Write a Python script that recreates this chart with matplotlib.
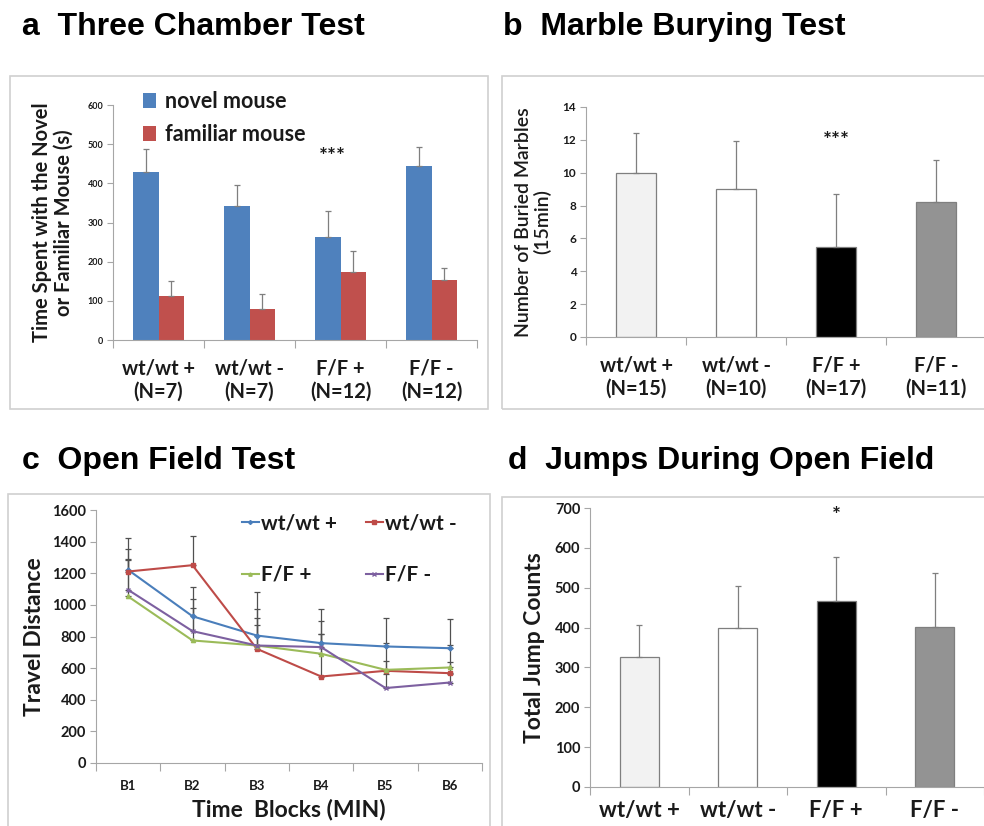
import matplotlib
matplotlib.use('Agg')
import matplotlib.pyplot as plt
import numpy as np
from matplotlib.patches import Rectangle

W, H = 984, 826

# ---------------- data ----------------
groups = ['wt/wt +', 'wt/wt -', 'F/F +', 'F/F -']

a_n = ['(N=7)', '(N=7)', '(N=12)', '(N=12)']
a_novel = [430, 343, 264, 445]
a_novel_err = [57, 52, 65, 47]
a_familiar = [112, 78, 174, 152]
a_familiar_err = [38, 39, 52, 31]
a_yticks = [0, 100, 200, 300, 400, 500, 600]

b_n = ['(N=15)', '(N=10)', '(N=17)', '(N=11)']
b_marbles = [10.0, 9.0, 5.5, 8.2]
b_err = [2.4, 2.9, 3.2, 2.6]
b_yticks = [0, 2, 4, 6, 8, 10, 12, 14]

c_blocks = ['B1', 'B2', 'B3', 'B4', 'B5', 'B6']
c_wt_pos = [1221, 928, 806, 758, 737, 726]
c_wt_pos_err = [204, 187, 277, 217, 181, 186]
c_wt_neg = [1211, 1251, 722, 547, 583, 568]
c_wt_neg_err = [140, 184, 250, 354, 179, 179]
c_ff_pos = [1053, 775, 743, 691, 589, 604]
c_ff_pos_err = [235, 205, 171, 123, 57, 34]
c_ff_neg = [1095, 834, 743, 733, 474, 509]
c_ff_neg_err = [190, 206, 129, 80, 86, 51]
c_yticks = [0, 200, 400, 600, 800, 1000, 1200, 1400, 1600]

d_jumps = [327, 400, 467, 401]
d_err = [79, 104, 110, 137]
d_yticks = [0, 100, 200, 300, 400, 500, 600, 700]

bar_colors = ['#f2f2f2', '#ffffff', '#000000', '#939393']

# ---------------- styling ----------------
FONT = ['Lato', 'DejaVu Sans']
TFONT = ['Liberation Sans', 'DejaVu Sans']
AXC = '#a6a6a6'
TXT = '#1a1a1a'

fig = plt.figure(figsize=(W / 100, H / 100), dpi=100)
fig.patch.set_facecolor('white')


def px_axes(left, right, y0, ytop):
    return fig.add_axes([left / W, 1 - y0 / H, (right - left) / W, (y0 - ytop) / H])


def box(x0, y0, x1, y1):
    fig.add_artist(Rectangle((x0 / W, 1 - y1 / H), (x1 - x0) / W, (y1 - y0) / H,
                             transform=fig.transFigure, fill=False,
                             edgecolor='#d0d0d0', linewidth=1.2))


def style_axes(ax, ncat, yticks, ytsize, xlabels, xtsize, xpad, linesp=1.25):
    for s in ['top', 'right']:
        ax.spines[s].set_visible(False)
    ax.spines['left'].set_color(AXC)
    ax.spines['bottom'].set_color(AXC)
    ax.set_xlim(-0.5, ncat - 0.5)
    ax.set_yticks(yticks)
    ax.set_ylim(yticks[0], yticks[-1])
    ax.tick_params(axis='y', length=4, width=0.8, color=AXC, pad=3)
    for t in ax.get_yticklabels():
        t.set_fontsize(ytsize)
        t.set_fontweight('bold')
        t.set_family(FONT)
        t.set_color(TXT)
    ax.set_xticks(np.arange(ncat))
    ax.set_xticklabels(xlabels, fontsize=xtsize, fontweight='bold', family=FONT,
                       color=TXT, linespacing=linesp)
    ax.set_xticks(np.arange(ncat + 1) - 0.5, minor=True)
    ax.tick_params(axis='x', which='major', length=0, pad=xpad)
    ax.tick_params(axis='x', which='minor', length=6, width=0.8, color=AXC)


# ---------------- boxes ----------------
box(10, 76, 488, 409)
box(502, 76, 990, 409)
box(8, 494, 490, 840)
box(502, 497, 990, 840)

# ---------------- titles ----------------
tkw = dict(fontsize=23, fontweight='bold', family=TFONT, va='center', ha='left', color='black')
fig.text(22 / W, 1 - 27 / H, 'a  Three Chamber Test', **tkw)
fig.text(503 / W, 1 - 27 / H, 'b  Marble Burying Test', **tkw)
fig.text(22 / W, 1 - 461 / H, 'c  Open Field Test', **tkw)
fig.text(508 / W, 1 - 461 / H, 'd  Jumps During Open Field', **tkw)

# ---------------- panel a ----------------
ax = px_axes(113, 477, 340, 105)
x = np.arange(len(groups))
bw = 0.28
ekw = dict(ecolor='#7f7f7f', elinewidth=0.9, capsize=2, capthick=0.9)
ax.bar(x - bw / 2, a_novel, bw, color='#4f81bd', label='novel mouse', zorder=2,
       yerr=[np.zeros(4), a_novel_err], error_kw=ekw)
ax.bar(x + bw / 2, a_familiar, bw, color='#c0504d', label='familiar mouse', zorder=2,
       yerr=[np.zeros(4), a_familiar_err], error_kw=ekw)
style_axes(ax, 4, a_yticks, 6.5, [f'{g}\n{n}' for g, n in zip(groups, a_n)], 14.5, 13)
ax.set_ylabel('Time Spent with the Novel\nor Familiar Mouse (s)', fontsize=14.5,
              fontweight='bold', family=FONT, color=TXT, labelpad=10, linespacing=1.1)
leg = ax.legend(loc='upper left', bbox_to_anchor=(0.03, 1.14), frameon=False,
                prop={'family': FONT, 'size': 15.5, 'weight': 'bold'},
                handlelength=0.6, handleheight=0.7, handletextpad=0.4, labelspacing=0.55)
for t in leg.get_texts():
    t.set_color(TXT)
ax.text(2 - bw / 2 + 0.05, 468, '***', ha='center', va='center', fontsize=15,
        fontweight='bold', family=FONT, color=TXT)

# ---------------- panel b ----------------
ax = px_axes(586, 986, 337, 107)
ax.bar(x, b_marbles, 0.4, color=bar_colors, edgecolor='#7f7f7f', linewidth=0.9, zorder=2,
       yerr=[np.zeros(4), b_err], error_kw=ekw)
style_axes(ax, 4, b_yticks, 8.5, [f'{g}\n{n}' for g, n in zip(groups, b_n)], 14.5, 13)
ax.set_ylabel('Number of Buried Marbles\n(15min)', fontsize=14,
              family=FONT, fontweight='semibold', color=TXT, labelpad=8, linespacing=1.1)
ax.text(2, 11.9, '***', ha='center', va='center', fontsize=15,
        fontweight='bold', family=FONT, color=TXT)

# ---------------- panel c ----------------
ax = px_axes(96, 482, 763, 510)
xc = np.arange(len(c_blocks))
series = [
    ('wt/wt +', c_wt_pos, c_wt_pos_err, '#4a7ebb', 'D', 2.5),
    ('wt/wt -', c_wt_neg, c_wt_neg_err, '#be4b48', 's', 3.5),
    ('F/F +', c_ff_pos, c_ff_pos_err, '#9bbb59', '^', 3.0),
    ('F/F -', c_ff_neg, c_ff_neg_err, '#7d60a0', 'x', 3.5),
]
handles = {}
for lab, vals, err, col, mk, ms in series:
    ax.errorbar(xc, vals, yerr=[np.zeros(6), err], fmt='none', ecolor='#505050',
                elinewidth=0.9, capsize=2, capthick=0.9, zorder=1)
    h, = ax.plot(xc, vals, color=col, marker=mk, markersize=ms, linewidth=1.5,
                 label=lab, zorder=3)
    handles[lab] = h
style_axes(ax, 6, c_yticks, 10.5, c_blocks, 9.5, 12)
ax.set_ylabel('Travel Distance', fontsize=16.5, fontweight='bold', family=FONT,
              color=TXT, labelpad=5)
ax.set_xlabel('Time  Blocks (MIN)', fontsize=16.5, fontweight='bold', family=FONT,
              color=TXT, labelpad=5)
order = ['wt/wt +', 'F/F +', 'wt/wt -', 'F/F -']
leg = ax.legend([handles[k] for k in order], order, loc='upper left',
                bbox_to_anchor=(0.33, 1.06), ncols=2, frameon=False,
                prop={'family': FONT, 'size': 15, 'weight': 'bold'},
                handlelength=0.8, handletextpad=0.1, columnspacing=1.4,
                labelspacing=1.5, markerscale=0.8)
for t in leg.get_texts():
    t.set_color(TXT)

# ---------------- panel d ----------------
ax = px_axes(590, 984, 787, 508)
ax.bar(x, d_jumps, 0.4, color=bar_colors, edgecolor='#7f7f7f', linewidth=0.9, zorder=2,
       yerr=[np.zeros(4), d_err], error_kw=ekw)
style_axes(ax, 4, d_yticks, 10.5, groups, 16, 9)
ax.set_ylabel('Total Jump Counts', fontsize=16.5, fontweight='bold', family=FONT,
              color=TXT, labelpad=7)
ax.text(2, 680, '*', ha='center', va='center', fontsize=15,
        fontweight='bold', family=FONT, color=TXT)

fig.savefig('out.png', dpi=100, facecolor='white')
